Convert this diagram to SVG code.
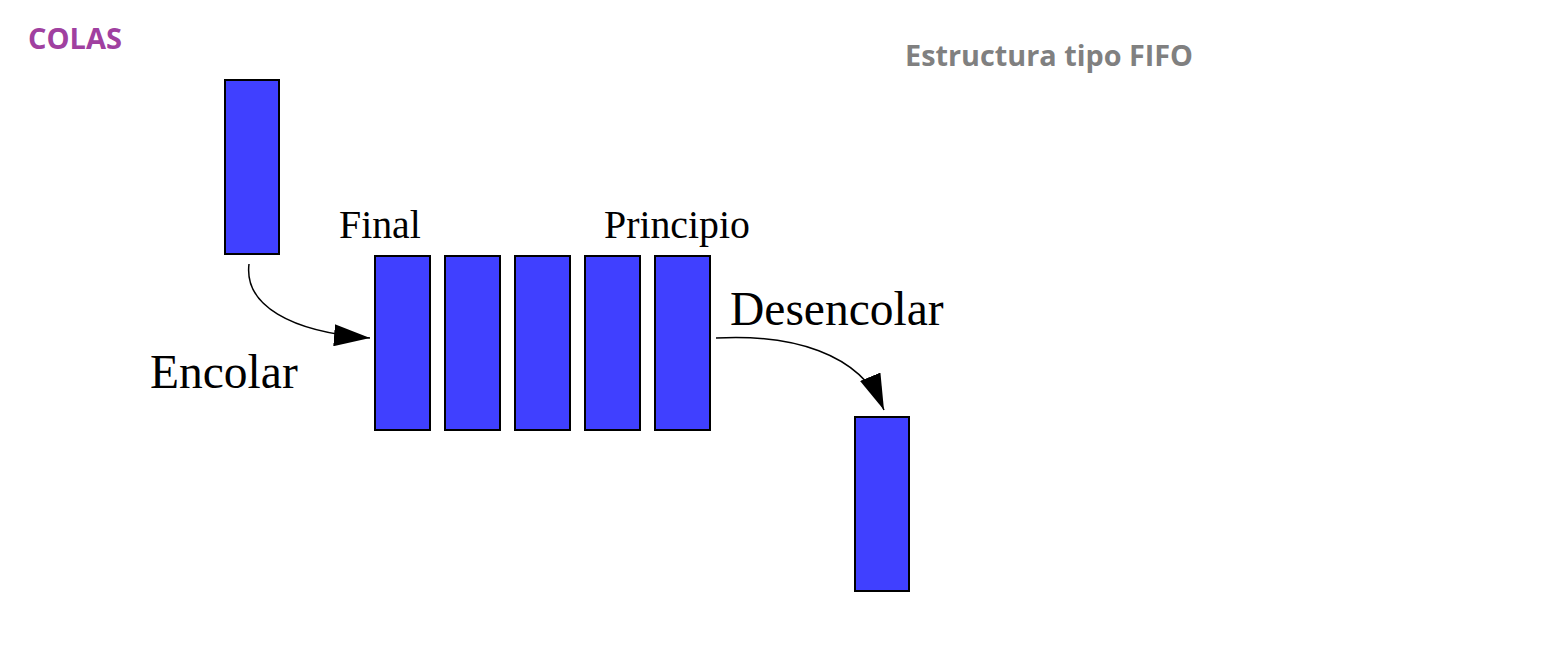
<svg xmlns="http://www.w3.org/2000/svg" width="1544" height="658" viewBox="0 0 1544 658">
<defs>
<style>
.box{fill:#4040FF;stroke:#000;stroke-width:2}
.lbl{font-family:"Liberation Serif","Times New Roman",serif;fill:#000}
.conn{fill:none;stroke:#000;stroke-width:1.5}
.title{font-family:"Open Sans","Liberation Sans",sans-serif;font-weight:bold}
</style>
<marker id="arr" markerWidth="38" markerHeight="22" refX="36" refY="11" orient="auto" markerUnits="userSpaceOnUse">
<path d="M0,0 L36,11 L0,22 Z" fill="#000"/>
</marker>
</defs>
<rect width="1544" height="658" fill="#fff"/>
<text class="title" x="28" y="49" font-size="29" fill="#A040A0">COLAS</text>
<text class="title" x="905" y="66" font-size="28.8" fill="#808080">Estructura tipo FIFO</text>
<g id="incoming"><rect class="box" x="225" y="80" width="54" height="174"/></g>
<g id="q1"><rect class="box" x="375" y="256" width="55" height="174"/></g>
<g id="q2"><rect class="box" x="445" y="256" width="55" height="174"/></g>
<g id="q3"><rect class="box" x="515" y="256" width="55" height="174"/></g>
<g id="q4"><rect class="box" x="585" y="256" width="55" height="174"/></g>
<g id="q5"><rect class="box" x="655" y="256" width="55" height="174"/></g>
<g id="outgoing"><rect class="box" x="855" y="417" width="54" height="174"/></g>
<text class="lbl" x="339" y="238" font-size="39.8">Final</text>
<text class="lbl" x="604" y="238" font-size="39.8">Principio</text>
<text class="lbl" x="730" y="325" font-size="47.5">Desencolar</text>
<text class="lbl" x="150" y="388" font-size="47.5">Encolar</text>
<g id="connectors">
<path class="conn" d="M249,264 C244,305 290,332 370,338" marker-end="url(#arr)"/>
<path class="conn" d="M716,338 C790,334 860,352 884,410" marker-end="url(#arr)"/>
</g>
</svg>
